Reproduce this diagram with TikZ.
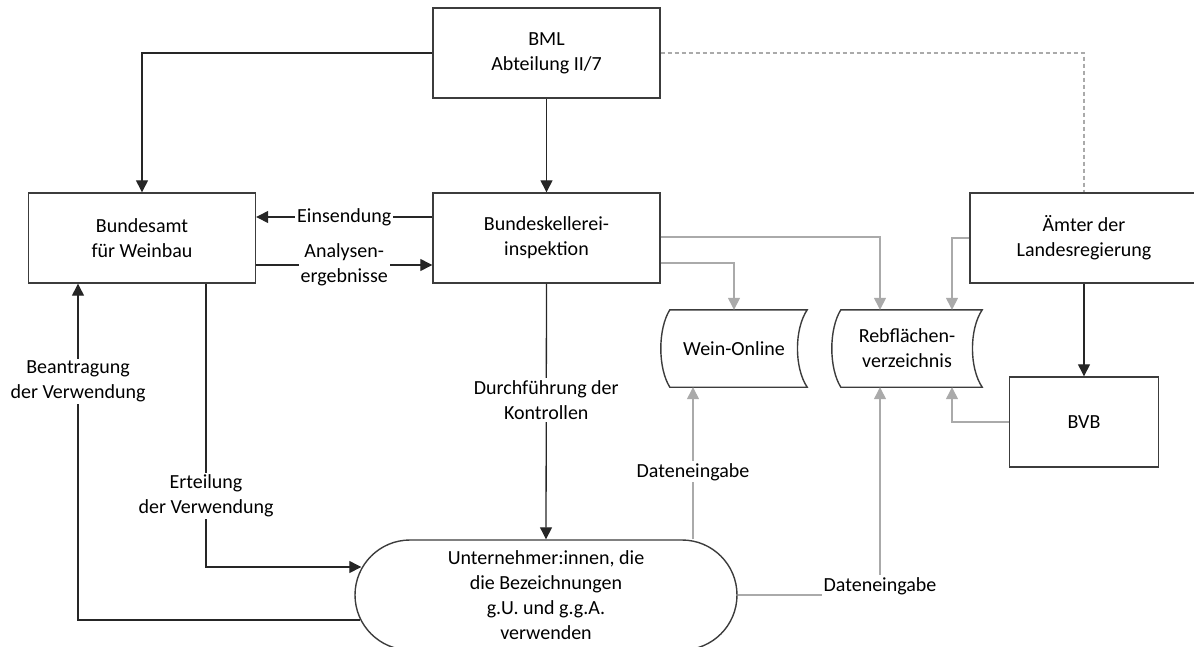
\documentclass[tikz,border=0pt]{standalone}
\usepackage{fontspec}
\setmainfont{Carlito}
\usetikzlibrary{arrows.meta,calc}
\definecolor{lgray}{RGB}{170,170,170}
\definecolor{dline}{RGB}{60,60,60}
\newcommand\storedshape[1]{%
  \draw[shp] ($(#1.north west)+(9,0)$) -- (#1.north east)
    .. controls ($(#1.north east)!0.25!(#1.south east)+(-13,0)$) and ($(#1.north east)!0.75!(#1.south east)+(-13,0)$) .. (#1.south east)
    -- ($(#1.south west)+(9,0)$)
    .. controls ($(#1.north west)!0.75!(#1.south west)+(-3,0)$) and ($(#1.north west)!0.25!(#1.south west)+(-3,0)$) .. ($(#1.north west)+(9,0)$) -- cycle;}
\begin{document}
\begin{tikzpicture}[x=1pt,y=-1pt,
  font=\fontsize{20}{25}\selectfont,
  box/.style={draw=dline, line width=1.4pt, minimum width=227pt, minimum height=90pt, align=center, inner sep=0pt},
  shp/.style={draw=dline, line width=1.4pt},
  blk/.style={draw=black!85, line width=1.3pt, -{Triangle[length=12pt,width=12pt]}},
  gry/.style={draw=lgray, line width=1.3pt, -{Triangle[length=12pt,width=12pt,fill=lgray]}},
  dsh/.style={draw=lgray, line width=1.3pt, dash pattern=on 4pt off 3pt},
  lbl/.style={fill=white, align=center, inner sep=2pt},
  store/.style={minimum height=77pt, inner sep=0pt, align=center},
]
\useasboundingbox (0,0) rectangle (1194,646);

\node[box] (bml) at (546.5,53) {BML\\Abteilung II/7};
\node[box] (ba) at (142,238) {Bundesamt\\für Weinbau};
\node[box] (bk) at (546.5,238) {Bundeskellerei-\\inspektion};
\node[box, minimum width=228pt] (amt) at (1084,238) {Ämter der\\Landesregierung};
\node[box, minimum width=149pt] (bvb) at (1084,422) {BVB};
\node[store, minimum width=146pt] (wein) at (734,348.5) {Wein-Online};
\node[store, minimum width=150pt] (reb) at (907,348.5) {Rebflächen-\\verzeichnis};
\storedshape{wein}
\storedshape{reb}
\node[draw=dline, line width=1.4pt, rounded corners=55pt, minimum width=382pt, minimum height=110pt, align=center, inner sep=0pt] (pill) at (546,595) {Unternehmer:innen, die\\die Bezeichnungen\\g.U. und g.g.A.\\verwenden};

\coordinate (wi) at ([xshift=-41pt]wein.south);
\coordinate (ei) at ([xshift=64pt]ba.south);
\coordinate (bi) at ([xshift=-64pt]ba.south);

\draw[blk] (bml.west) -| (ba.north);
\draw[blk] (bml.south) -- (bk.north);
\draw[dsh] (bml.east) -| (amt.north);
\draw[blk] ([yshift=21pt]bk.west) -- node[lbl]{Einsendung} ([yshift=21pt]ba.east);
\draw[blk] ([yshift=-27pt]ba.east) -- node[lbl]{Analysen-\\ergebnisse} ([yshift=-27pt]bk.west);
\draw[blk] (bk.south) -- node[lbl,pos=0.455]{Durchführung der\\Kontrollen} (pill.north);
\draw[gry] ([yshift=1pt]bk.east) -| ([xshift=-27pt]reb.north);
\draw[gry] ([yshift=-25pt]bk.east) -| (wein.north);
\draw[gry] (amt.west) -| ([xshift=45pt]reb.north);
\draw[blk] (amt.south) -- (bvb.north);
\draw[gry] (bvb.west) -| ([xshift=45pt]reb.south);
\draw[gry] (wi |- pill.north) -- node[lbl,pos=0.444]{Dateneingabe} (wi);
\draw[gry] (pill.east) -| node[lbl,pos=0.5,yshift=9pt]{Dateneingabe} ([xshift=-27pt]reb.south);
\draw[blk] (ei) |- node[lbl,pos=0.375]{Erteilung\\der Verwendung} ([xshift=7pt,yshift=28pt]pill.west);
\draw[blk] ([xshift=6pt,yshift=-25pt]pill.west) -| node[lbl,pos=0.855]{Beantragung\\der Verwendung} (bi);
\end{tikzpicture}
\end{document}
